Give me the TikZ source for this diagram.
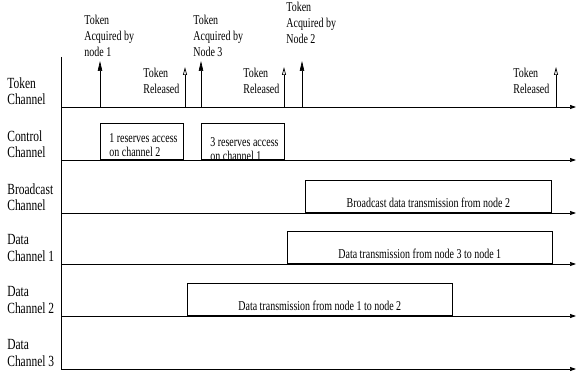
\documentclass[tikz,border=0pt]{standalone}
\usepackage{fontspec}
\setmainfont{Liberation Serif}[FakeStretch=0.74]
\usetikzlibrary{arrows.meta}

\begin{document}
\begin{tikzpicture}[x=1pt, y=-1pt, line width=0.7pt, font=\fontsize{13.5}{15}\selectfont,
	every node/.style={inner sep=0pt},
	chan/.style={align=left, anchor=west, font=\fontsize{15.5}{16.5}\selectfont},
	note/.style={align=left, anchor=north west, font=\fontsize{13.5}{16}\selectfont},
	resv/.style={align=left, anchor=north west, font=\fontsize{13.5}{14.5}\selectfont},
	slot/.style={draw, line width=0.6pt, anchor=south west},
	axis/.style={-{Triangle[length=6pt,width=4pt]}},
	grab/.style={-{Triangle[length=10pt,width=4.5pt]}},
	drop/.style={-{Triangle[open,length=8pt,width=4pt]}}]
	\useasboundingbox (0,0) rectangle (576,377);

	% channel names
	\node[chan] (tok) at (7,91) {Token\\Channel};
	\node[chan] (ctl) at (7,144) {Control\\Channel};
	\node[chan] (bc) at (7,197) {Broadcast\\Channel};
	\node[chan] (dc1) at (7,248) {Data\\Channel 1};
	\node[chan] (dc2) at (7,300) {Data\\Channel 2};
	\node[chan] (dc3) at (7,353) {Data\\Channel 3};

	% reservations and transmissions
	\node[slot, minimum width=83pt, minimum height=36pt] (res1) at (100,160) {};
	\node[slot, minimum width=83pt, minimum height=36pt] (res3) at (201,160) {};
	\node[resv] (res1 txt) at (109,133) {1 reserves access\\on channel 2};
	\node[resv] (res3 txt) at (210,137) {3 reserves access\\on channel 1};

	\node[slot, minimum width=246pt, minimum height=32pt] (bcast) at (305,213) {};
	\node[slot, minimum width=265pt, minimum height=32pt] (send31) at (287,264) {};
	\node[slot, minimum width=265pt, minimum height=32pt] (send12) at (187,316) {};
	\node (bcast txt) at ([yshift=10pt]bcast.south) {Broadcast data transmission from node 2};
	\node (send31 txt) at ([yshift=10pt]send31.south) {Data transmission from node 3 to node 1};
	\node (send12 txt) at ([yshift=10pt]send12.south) {Data transmission from node 1 to node 2};

	% time axes
	\coordinate (top) at (61,57);
	\coordinate (tok w) at (61,107);
	\coordinate (tok e) at (576,107);
	\coordinate (ctl w) at (61,160);
	\coordinate (ctl e) at (576,160);
	\coordinate (bc w) at (61,213);
	\coordinate (bc e) at (576,213);
	\coordinate (dc1 w) at (61,264);
	\coordinate (dc1 e) at (576,264);
	\coordinate (dc2 w) at (61,316);
	\coordinate (dc2 e) at (576,316);
	\coordinate (dc3 w) at (61,369);
	\coordinate (dc3 e) at (576,369);

	\draw (top) -- (dc3 w);
	\draw[axis] (tok w) -- (tok e);
	\draw[axis] (ctl w) -- (ctl e);
	\draw[axis] (bc w) -- (bc e);
	\draw[axis] (dc1 w) -- (dc1 e);
	\draw[axis] (dc2 w) -- (dc2 e);
	\draw[axis] (dc3 w) -- (dc3 e);

	% token events
	\node[note] (got1) at (84,15) {Token\\Acquired by\\node 1};
	\node[note] (rel1) at (143,68) {Token\\Released};
	\node[note] (got3) at (193,15) {Token\\Acquired by\\Node 3};
	\node[note] (rel2) at (243,68) {Token\\Released};
	\node[note] (got2) at (286,2) {Token\\Acquired by\\Node 2};
	\node[note] (rel3) at (513,68) {Token\\Released};

	\coordinate (n1) at (100,107);
	\coordinate (n1 up) at (100,61);
	\coordinate (r1) at (185,107);
	\coordinate (r1 up) at (185,67);
	\coordinate (n3) at (201,107);
	\coordinate (n3 up) at (201,61);
	\coordinate (r2) at (284,107);
	\coordinate (r2 up) at (284,67);
	\coordinate (n2) at (302,107);
	\coordinate (n2 up) at (302,61);
	\coordinate (r3) at (556,107);
	\coordinate (r3 up) at (556,67);

	\draw[grab] (n1) -- (n1 up);
	\draw[drop] (r1) -- (r1 up);
	\draw[grab] (n3) -- (n3 up);
	\draw[drop] (r2) -- (r2 up);
	\draw[grab] (n2) -- (n2 up);
	\draw[drop] (r3) -- (r3 up);
\end{tikzpicture}
\end{document}
